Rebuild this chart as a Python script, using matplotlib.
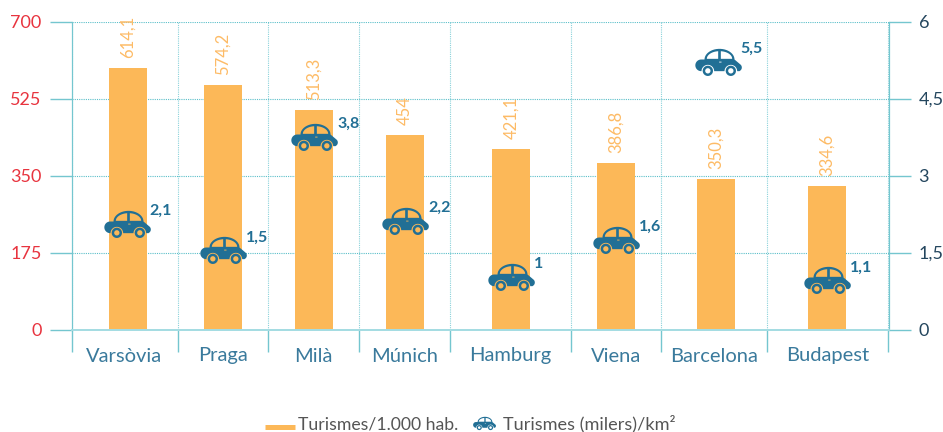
import numpy as np
import matplotlib
matplotlib.use('Agg')
from matplotlib import pyplot as plt
from matplotlib.lines import Line2D
from matplotlib.path import Path

# data
cities = ['Varsòvia', 'Praga', 'Milà', 'Múnich', 'Hamburg', 'Viena', 'Barcelona', 'Budapest']
bar_values = [594.3, 555.7, 498.9, 442, 410, 378.4, 342, 326]
bar_labels = ['614,1', '574,2', '513,3', '454', '421,1', '386,8', '350,3', '334,6']
car_values = [2.055, 1.54, 3.756, 2.11, 1.03, 1.75, 5.21, 0.955]
car_labels = ['2,1', '1,5', '3,8', '2,2', '1', '1,6', '5,5', '1,1']
left_ticks = [0, 175, 350, 525, 700]
left_ticklabels = ['0', '175', '350', '525', '700']
right_ticks = [0, 1.5, 3, 4.5, 6]
right_ticklabels = ['0', '1,5', '3', '4,5', '6']

# layout, in pixels of the 943x432 picture
W, H = 943, 432
LEFT, RIGHT, TOP, BOTTOM = 71.5, 888.5, 21.5, 329.5
separators = np.array([71.5, 177.5, 268.5, 359, 449.7, 570.7, 661.5, 767.5, 888.5])
bar_x = np.array([128, 223, 314, 405, 511, 616, 716, 827])
car_x = np.array([126.7, 223, 314, 405, 511, 616, 717.7, 827])
label_x = (separators[:-1] + separators[1:]) / 2

TEAL = '#74C6CF'
PALE = '#A5DCE2'
ORANGE = '#FCB858'
ORANGE_TXT = '#FDBB66'
BLUE = '#216F95'
CAT_BLUE = '#3A7A9C'
RED = '#E8343F'
NAVY = '#24465E'
GREY = '#555555'
px = 72 / 100  # points per pixel at dpi 100

plt.rcParams['font.family'] = ['Lato', 'DejaVu Sans']


def arc(cx, cy, rx, ry, a0, a1, n=24):
    a = np.radians(np.linspace(a0, a1, n))
    return np.column_stack([cx + rx * np.cos(a), cy + ry * np.sin(a)])


def car_marker():
    # outline counter clockwise, holes clockwise so they stay see-through
    outline = np.vstack([
        arc(-52, -8.5, 17.5, 17.5, 90, 270),
        arc(-32, -26, 19, 19, 180, 0),
        arc(37, -26, 19, 19, 180, 0),
        [[63, -26]],
        arc(60, -15, 10, 11, -60, 50, 8),
        arc(3, 9, 45, 32, 0, 180),
    ])
    win_left = np.vstack([[[-1, 11]], arc(3, 11, 38, 23, 180, 96)])
    win_right = np.vstack([arc(3, 11, 38, 23, 84, 0), [[7, 11]]])
    handle = np.array([[2, 0], [2, 2.5], [9, 2.5], [9, 0]])
    parts = [outline, win_left, win_right, handle]
    for cx in (-32, 37):
        parts.append(arc(cx, -25, 15.5, 15.5, 0, 360))
        parts.append(arc(cx, -25, 8, 8, 360, 0))
    verts, codes = [], []
    for p in parts:
        verts.extend(p.tolist() + [p[0].tolist()])
        codes.extend([Path.MOVETO] + [Path.LINETO] * (len(p) - 1) + [Path.CLOSEPOLY])
    return Path(verts, codes)


car = car_marker()

fig = plt.figure(figsize=(W / 100, H / 100), dpi=100)
ax = fig.add_axes([LEFT / W, 1 - BOTTOM / H, (RIGHT - LEFT) / W, (BOTTOM - TOP) / H])
ax2 = ax.twinx()
ax.set_xlim(LEFT, RIGHT)
ax.set_ylim(0, 700)
ax2.set_ylim(0, 6)
ax.set_axisbelow(True)

# bars and their rotated labels
ax.bar(bar_x, bar_values, width=38, color=ORANGE, zorder=2)
for x, v, s in zip(bar_x, bar_values, bar_labels):
    ax.annotate(s, (x, v), xytext=(0, 10 * px), textcoords='offset points', rotation=90,
                ha='center', va='bottom', color=ORANGE_TXT, fontsize=12, zorder=3)

# cars on the second axis
ax2.plot(car_x, car_values, ls='none', marker=car, ms=33.6, mew=0, color=BLUE, clip_on=False)
for x, v, s in zip(car_x, car_values, car_labels):
    ax2.annotate(s, (x, v), xytext=(23 * px, 13 * px), textcoords='offset points',
                 ha='left', va='center', color=BLUE, fontsize=11.5, fontweight='bold')

# grid and ticks
ax.set_yticks(left_ticks, left_ticklabels)
ax2.set_yticks(right_ticks, right_ticklabels)
ax.set_xticks(separators, [''] * len(separators))
ax.set_xticks(label_x, cities, minor=True)
ax.grid(True, axis='y', color='#5BBFC9', ls=(0, (1, 1)), lw=0.8)
ax.grid(True, axis='x', color='#8AD2DA', ls=(0, (1, 1)), lw=0.8)
ax.tick_params(axis='y', length=22 * px, width=1, color=TEAL, pad=8 * px, labelsize=13, labelcolor=RED)
ax.tick_params(axis='x', which='major', length=22 * px, width=1, color=TEAL)
ax.tick_params(axis='x', which='minor', length=0, pad=32 * px, labelsize=14.5, labelcolor=CAT_BLUE)
ax2.tick_params(axis='y', length=22 * px, width=1, color=TEAL, pad=8 * px, labelsize=13, labelcolor=NAVY)
for t in ax.get_xticklabels(minor=True):
    t.set_va('baseline')
ax.yaxis.get_major_ticks()[0].tick1line.set_color(PALE)
ax2.yaxis.get_major_ticks()[0].tick2line.set_color(PALE)

for a in (ax, ax2):
    a.spines['top'].set_visible(False)
    a.spines['left'].set_color(TEAL)
    a.spines['right'].set_color(TEAL)
    a.spines['bottom'].set_color(PALE)
    a.spines['bottom'].set_linewidth(1.3)

# legend drawn by hand to sit where the original has it
fig.add_artist(Line2D([265 / W, 295 / W], [1 - 427 / H] * 2, color=ORANGE, lw=5 * px, solid_capstyle='butt'))
fig.text(298 / W, 1 - 429.5 / H, 'Turismes/1.000 hab.', color=GREY, fontsize=12.7, va='baseline')
fig.add_artist(Line2D([484 / W], [1 - 423 / H], ls='none', marker=car, ms=16.5, mew=0, color=BLUE))
fig.text(503 / W, 1 - 429.5 / H, 'Turismes (milers)/km²', color=GREY, fontsize=13.1, va='baseline')

fig.savefig('out.png', dpi=100)
